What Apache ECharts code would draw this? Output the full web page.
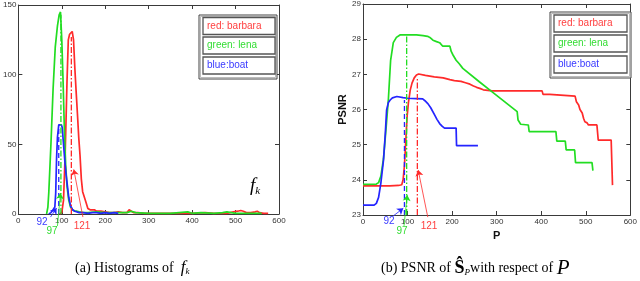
<!DOCTYPE html>
<html><head><meta charset="utf-8">
<script src="https://cdn.jsdelivr.net/npm/echarts@6/dist/echarts.min.js"></script>
<style>html,body{margin:0;padding:0;background:#fff}#c{width:640px;height:281px}</style>
</head><body><div id="c"></div>
<script>
// ---------- (a) histograms of f_k ----------
const histRedX = [95,100,104,108,112,115,118,121,124,127,130,133,136,139,142,145,148,152,156,160,165,170,175,180,190,200,210,220,230,240,250,255,260,265,275,290,310,350,400,430,450,480,495,505,512,518,525,535,545,550,555,565,575];
const histRedY = [0,1,10,45,95,125,129,130,131,125,105,88,72,55,42,25,16,12,8,4,3,3,3,2,2,1.5,1,1,1.5,1,1,3,2,1,1,0.5,0.5,0.5,0.5,1,0.5,0.5,1.5,2,2.5,2,1,1,1.5,2,1,0.5,0.5];
const histGreenX = [65,68,70,75,80,85,90,94,97,100,103,106,109,112,116,120,125,130,135,140,150,160,180,200,220,250,260,270,300,350,390,400,420,450,470,480,500,520,540,560];
const histGreenY = [0,5,15,50,90,120,135,143,145,125,95,60,35,20,10,5,3,2,2,1.5,1,1,1.5,1,1,1,2,1,0.5,0.5,1.5,0.5,1,0.5,1,1.5,0.5,0.5,0.5,0.5];
const histBlueX = [70,75,80,84,86,88,90,93,96,99,101,104,107,110,113,116,120,125,130,140,150,160,170,180,190,200,210,220,230];
const histBlueY = [0,1,3,5,15,40,55,64,65,64,62,50,38,28,20,12,6,3,2,1,1,0.5,1,1,0.5,1,0.5,1,0.5];

// ---------- (b) PSNR vs P ----------
const psnrRedX = [0,60,80,87,90,93,96,99,102,106,110,115,120,125,140,160,180,195,205,220,230,240,248,255,262,270,290,402,404,419,421,476,479,484,487,492,495,498,503,506,525,528,557,560];
const psnrRedY = [23.83,23.83,23.84,23.86,24.0,24.4,25.1,25.8,26.2,26.55,26.75,26.9,26.98,27.01,26.97,26.93,26.9,26.85,26.82,26.8,26.76,26.72,26.67,26.63,26.6,26.56,26.53,26.53,26.43,26.43,26.38,26.38,26.22,26.13,26.0,25.9,25.75,25.65,25.62,25.56,25.56,25.13,25.13,23.85];
const psnrGreenX = [0,30,35,40,46,52,57,62,68,75,83,100,120,135,145,150,157,165,172,179,195,198,202,209,216,224,261,287,346,348,354,371,373,433,435,454,456,475,477,514,516];
const psnrGreenY = [23.87,23.88,23.92,24.1,24.6,25.5,26.3,27.4,27.9,28.05,28.12,28.12,28.12,28.1,28.08,28.05,27.97,27.93,27.9,27.8,27.8,27.65,27.55,27.4,27.3,27.17,26.79,26.53,25.94,25.7,25.58,25.56,25.37,25.37,25.1,25.1,24.85,24.85,24.49,24.49,24.26];
const psnrBlueX = [0,25,30,35,40,46,50,53,57,61,66,76,90,100,120,134,139,146,152,161,166,172,178,183,195,209,210,258];
const psnrBlueY = [23.28,23.28,23.33,23.5,23.9,24.56,25.3,25.99,26.2,26.27,26.33,26.37,26.34,26.32,26.31,26.3,26.25,26.16,26.05,25.84,25.72,25.6,25.52,25.47,25.47,25.47,24.97,24.97];

// selected P values (dash-dot markers) and their labels
const markX = [93, 98, 122];
const markLabels = ['92', '97', '121'];
const histMarkTop = [64, 143, 127];
const psnrMarkTop = [26.27, 28.12, 26.9];
// arrows [tailX, tailY, headX, headY]
const histArrows = [[74,-2.2,88,4.3],[90,-8.6,97,15],[148.6,-2.2,127.6,32]];
const psnrArrows = [[67.5,22.97,90.4,23.19],[92,22.69,99.3,23.57],[145.4,22.94,123.8,24.28]];

const legendNames = ['red: barbara', 'green: lena', 'blue:boat'];
const colors = ['#ff2a2a', '#22dd22', '#2424ff'];
const textColors = ['#ff4040', '#33dd33', '#3a3aff'];

const zip = (xs, ys) => xs.map((x, i) => [x, ys[i]]);
const axisCol = '#3a3a3a';
const lbl = {fontFamily: 'Liberation Sans', fontSize: 8, color: '#333'};

function xAx(grid, pos, show, extra) {
  return Object.assign({
    type: 'value', gridIndex: grid, position: pos, min: 0, max: 600, interval: 100,
    axisLine: {show: true, onZero: false, lineStyle: {color: axisCol, width: 1}},
    axisTick: {show: true, inside: true, length: 4, lineStyle: {color: axisCol}},
    axisLabel: Object.assign({show: show, margin: 3}, lbl),
    splitLine: {show: false}
  }, extra || {});
}
function yAx(grid, pos, show, min, max, iv, extra) {
  return Object.assign({
    type: 'value', gridIndex: grid, position: pos, min: min, max: max, interval: iv,
    axisLine: {show: true, onZero: false, lineStyle: {color: axisCol, width: 1}},
    axisTick: {show: true, inside: true, length: 4, lineStyle: {color: axisCol}},
    axisLabel: Object.assign({show: show, margin: 2}, lbl),
    splitLine: {show: false}
  }, extra || {});
}

const series = [];
function curve(xi, yi, xs, ys, c) {
  series.push({type: 'line', xAxisIndex: xi, yAxisIndex: yi, data: zip(xs, ys),
    showSymbol: false, symbol: 'none', lineStyle: {color: c, width: 1.7}, z: 3, silent: true});
}
curve(0, 0, histRedX, histRedY, colors[0]);
curve(0, 0, histGreenX, histGreenY, colors[1]);
curve(0, 0, histBlueX, histBlueY, colors[2]);
curve(2, 2, psnrRedX, psnrRedY, colors[0]);
curve(2, 2, psnrGreenX, psnrGreenY, colors[1]);
curve(2, 2, psnrBlueX, psnrBlueY, colors[2]);

const dashTypes = [[5, 3], [6, 2, 1.5, 2], [6, 2, 1.5, 2]];
const markOrder = [2, 1, 0]; // blue 92, green 97, red 121
markOrder.forEach((ci, k) => {
  series.push({type: 'line', xAxisIndex: 0, yAxisIndex: 0, showSymbol: false, symbol: 'none', silent: true, z: 4,
    data: [[markX[k], 0], [markX[k], histMarkTop[k]]],
    lineStyle: {color: colors[ci], width: 1.3, type: dashTypes[k]}});
  series.push({type: 'line', xAxisIndex: 2, yAxisIndex: 2, showSymbol: false, symbol: 'none', silent: true, z: 4,
    data: [[markX[k], 23], [markX[k], psnrMarkTop[k]]],
    lineStyle: {color: colors[ci], width: 1.3, type: dashTypes[k]}});
  series.push({type: 'lines', coordinateSystem: 'cartesian2d', xAxisIndex: 0, yAxisIndex: 0, clip: false, silent: true, z: 5,
    symbol: ['none', 'arrow'], symbolSize: 6,
    lineStyle: {color: colors[ci], width: 0.8, opacity: 1, curveness: 0},
    data: [{coords: [[histArrows[k][0], histArrows[k][1]], [histArrows[k][2], histArrows[k][3]]]}]});
  series.push({type: 'lines', coordinateSystem: 'cartesian2d', xAxisIndex: 2, yAxisIndex: 2, clip: false, silent: true, z: 5,
    symbol: ['none', 'arrow'], symbolSize: 6,
    lineStyle: {color: colors[ci], width: 0.8, opacity: 1, curveness: 0},
    data: [{coords: [[psnrArrows[k][0], psnrArrows[k][1]], [psnrArrows[k][2], psnrArrows[k][3]]]}]});
});

// graphics: legends, annotation labels, captions
const graphic = [];
function legendBox(x, y, w, h, ix, iys, iw, ih, tx) {
  graphic.push({type: 'rect', shape: {x: x, y: y, width: w, height: h}, style: {fill: '#fff', stroke: '#444', lineWidth: 1}, z: 10});
  graphic.push({type: 'rect', shape: {x: x + 1.5, y: y + 1.5, width: w - 3, height: h - 3}, style: {fill: 'none', stroke: '#bbb', lineWidth: 1}, z: 10});
  iys.forEach((iy, i) => {
    graphic.push({type: 'rect', shape: {x: ix, y: iy, width: iw, height: ih}, style: {fill: '#fff', stroke: '#555', lineWidth: 1.3}, z: 11});
    graphic.push({type: 'text', x: tx, y: iy + ih / 2, z: 12,
      style: {text: legendNames[i], fill: textColors[i], font: '10px "Liberation Sans"', verticalAlign: 'middle'}});
  });
}
legendBox(199, 15, 78, 64, 203, [17.5, 37, 57], 72, 17, 207);
legendBox(550, 12, 81, 66, 554, [15, 35, 56], 73, 17, 558);

const labelPos = [
  [[42, 222], [52, 231], [82, 226]],
  [[389, 221], [402, 231], [429, 226]]
];
labelPos.forEach(set => set.forEach((p, k) => {
  graphic.push({type: 'text', x: p[0], y: p[1], z: 12,
    style: {text: markLabels[k], fill: textColors[markOrder[k]], font: '10px "Liberation Sans"', align: 'center', verticalAlign: 'middle'}});
}));

graphic.push({type: 'text', x: 250, y: 186, z: 12,
  style: {text: '{f|f}{k|k}', verticalAlign: 'middle',
    rich: {f: {font: 'italic 19px "Liberation Serif"', fill: '#000'}, k: {font: 'italic 11px "Liberation Serif"', fill: '#000', padding: [10, 0, 0, 0]}}}});

graphic.push({type: 'text', x: 75, y: 268, z: 12,
  style: {text: '{t|(a) Histograms of  }{f|f}{k|k}', verticalAlign: 'middle',
    rich: {t: {font: '14px "Liberation Serif"', fill: '#000'}, f: {font: 'italic 17px "Liberation Serif"', fill: '#000'}, k: {font: 'italic 9px "Liberation Serif"', fill: '#000', padding: [8, 0, 0, 0]}}}});

graphic.push({type: 'text', x: 381, y: 268, z: 12,
  style: {text: '{t|(b) PSNR of }{s|\u015C}{p|P}{t|with respect of }{P|P}', verticalAlign: 'middle',
    rich: {t: {font: '14px "Liberation Serif"', fill: '#000'}, s: {font: 'bold 18px "Liberation Serif"', fill: '#000'}, p: {font: 'italic 9px "Liberation Serif"', fill: '#000', padding: [9, 0, 0, 0]}, P: {font: 'italic 21px "Liberation Serif"', fill: '#000'}}}});

const option = {
  backgroundColor: '#fff',
  animation: false,
  grid: [
    {left: 14, top: 5, width: 265, height: 209},
    {left: 363, top: 4, width: 269, height: 211}
  ],
  xAxis: [
    xAx(0, 'bottom', true),
    xAx(0, 'top', false),
    xAx(1, 'bottom', true, {name: 'P', nameLocation: 'middle', nameGap: 15,
      nameTextStyle: {fontFamily: 'Liberation Sans', fontWeight: 'bold', fontSize: 11, color: '#111'}}),
    xAx(1, 'top', false)
  ],
  yAxis: [
    yAx(0, 'left', true, 0, 150, 50),
    yAx(0, 'right', false, 0, 150, 50),
    yAx(1, 'left', true, 23, 29, 1, {name: 'PSNR', nameLocation: 'middle', nameGap: 15,
      nameTextStyle: {fontFamily: 'Liberation Sans', fontWeight: 'bold', fontSize: 11, color: '#111'}}),
    yAx(1, 'right', false, 23, 29, 1)
  ],
  series: series,
  graphic: graphic
};
const chart = echarts.init(document.getElementById('c'), null, {renderer: 'canvas'});
chart.setOption(option);
</script></body></html>
